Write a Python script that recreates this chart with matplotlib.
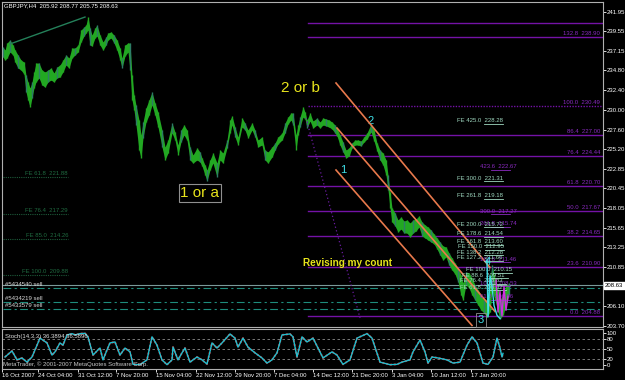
import matplotlib
matplotlib.use("Agg")
import matplotlib.pyplot as plt

plt.rcParams['font.family'] = ['Liberation Sans Narrow', 'Liberation Sans', 'DejaVu Sans']

# ---- price data (H4 bars, sampled along the chart) ----
bar_pos = [3, 5, 7, 10, 13, 15, 18, 21, 24, 26, 28, 30, 32, 34, 36, 39, 42, 45, 48, 51,
           54, 57, 60, 63, 66, 69, 72, 75, 78, 81, 84, 86, 88, 90, 92, 95, 97, 100, 103, 106,
           108, 111, 114, 117, 120, 122, 125, 128, 130, 132, 134, 136, 139, 141, 143, 146, 149, 152, 155, 158,
           162, 165, 168, 172, 175, 178, 181, 184, 187, 190, 193, 197, 200, 202, 205, 207, 210, 213, 217, 220,
           223, 227, 230, 232, 235, 238, 242, 245, 248, 252, 255, 258, 262, 265, 268, 272, 275, 278, 282, 285,
           288, 291, 293, 296, 298, 300, 303, 305, 307, 310, 313, 317, 320, 323, 326, 329, 332, 335, 337, 340,
           343, 346, 349, 352, 355, 358, 361, 364, 367, 371, 374, 377, 380, 383, 386, 388, 390, 392, 395, 398,
           401, 404, 407, 410, 413, 416, 419, 422, 425, 428, 431, 434, 437, 440, 443, 446, 449, 452, 455, 458,
           461, 463, 466, 469, 472, 475, 478, 481, 484, 487, 490, 492, 495, 498, 500, 503, 506, 509]
highs = [237.65, 237.28, 238.14, 238.50, 237.89, 237.28, 236.68, 236.07, 235.82, 234.24,
         233.39, 232.66, 233.39, 234.61, 235.70, 235.70, 234.85, 234.61, 234.85, 235.09,
         234.49, 235.22, 235.46, 236.07, 236.68, 236.31, 237.53, 237.53, 237.89, 239.72,
         240.08, 240.33, 241.30, 239.96, 239.11, 239.96, 240.33, 239.11, 238.26, 238.87,
         239.35, 239.48, 239.11, 238.50, 237.53, 236.31, 237.89, 238.14, 238.14, 234.24,
         231.81, 230.59, 228.77, 226.94, 228.52, 230.23, 231.20, 232.17, 230.83, 229.74,
         227.55, 225.48, 226.33, 228.40, 227.31, 225.72, 227.55, 228.16, 227.55, 225.48,
         224.51, 225.36, 224.87, 224.14, 223.29, 222.68, 223.90, 224.75, 223.53, 225.11,
         224.75, 226.33, 228.77, 229.25, 227.91, 226.70, 229.01, 228.40, 227.55, 228.40,
         227.55, 226.33, 226.70, 225.11, 224.87, 225.48, 225.97, 226.70, 227.18, 228.40,
         229.13, 229.62, 229.62, 226.94, 228.16, 229.13, 230.35, 229.74, 228.77, 229.62,
         228.64, 229.01, 228.52, 229.01, 228.89, 228.77, 228.52, 228.16, 227.79, 226.94,
         226.09, 225.11, 225.36, 225.97, 226.33, 226.33, 226.21, 226.70, 227.18, 228.28,
         227.55, 225.97, 225.11, 224.75, 223.90, 222.07, 220.00, 218.06, 217.45, 216.60,
         216.96, 216.47, 216.60, 216.23, 216.60, 216.72, 217.08, 216.35, 215.99, 215.74,
         215.38, 214.89, 214.41, 213.92, 213.43, 213.31, 212.58, 211.97, 211.36, 210.75,
         209.90, 208.93, 210.27, 210.15, 209.54, 208.69, 208.08, 207.47, 206.86, 206.86,
         209.29, 211.12, 209.54, 208.08, 206.86, 207.47, 208.56, 208.93]
lows = [236.43, 236.07, 236.31, 237.04, 236.68, 235.82, 235.09, 234.85, 234.36, 232.17,
        231.20, 230.35, 231.44, 232.66, 233.39, 233.88, 233.03, 232.78, 233.39, 233.63,
        233.39, 233.88, 234.00, 234.61, 235.46, 235.09, 236.31, 236.68, 237.04, 238.26,
        238.99, 239.35, 239.72, 237.89, 237.77, 238.75, 238.99, 237.89, 237.28, 237.89,
        238.50, 238.75, 238.14, 237.28, 236.07, 235.09, 236.55, 237.04, 234.85, 231.20,
        229.98, 228.16, 225.11, 224.14, 226.58, 228.52, 229.37, 230.59, 229.37, 227.91,
        225.48, 223.90, 224.75, 227.18, 226.33, 224.51, 226.09, 226.94, 226.33, 223.90,
        223.53, 223.90, 223.65, 223.17, 222.07, 221.34, 222.68, 223.53, 221.83, 223.90,
        223.53, 225.36, 227.18, 228.16, 226.70, 225.72, 227.91, 227.55, 226.58, 227.55,
        226.70, 225.48, 225.72, 223.90, 223.53, 224.26, 225.11, 225.85, 226.33, 227.18,
        228.28, 228.77, 228.16, 225.11, 226.94, 227.91, 229.13, 228.89, 227.79, 228.64,
        227.79, 228.16, 227.79, 228.16, 228.04, 227.91, 227.67, 227.18, 226.82, 225.72,
        224.87, 224.14, 224.38, 225.36, 225.72, 225.72, 225.60, 226.09, 226.45, 227.31,
        226.21, 224.99, 223.90, 223.29, 222.07, 220.25, 218.06, 216.35, 215.87, 215.14,
        215.50, 215.01, 215.01, 214.53, 215.01, 215.26, 215.74, 214.65, 214.41, 214.16,
        213.92, 213.68, 213.07, 212.34, 211.73, 212.09, 211.12, 210.51, 210.02, 209.05,
        207.47, 206.86, 208.69, 208.32, 207.47, 206.86, 206.25, 205.64, 205.28, 204.79,
        205.40, 208.08, 206.86, 205.40, 204.55, 205.03, 206.25, 207.47]
last_price = 208.63

# ---- stochastic (14,3,3) main line ----
stoch_pos = [5, 12, 17, 22, 27, 32, 40, 47, 52, 55, 60, 63, 67, 72, 75, 80, 85, 88, 93, 98,
             100, 103, 107, 110, 115, 120, 125, 130, 133, 140, 147, 152, 157, 162, 167, 172, 173, 178, 182, 185,
             190, 197, 202, 207, 212, 217, 222, 230, 235, 238, 243, 248, 255, 262, 267, 272, 277, 282, 290, 293,
             297, 302, 307, 313, 318, 323, 332, 337, 343, 350, 357, 367, 372, 380, 390, 397, 402, 410, 413, 420,
             425, 428, 432, 438, 447, 453, 460, 467, 472, 477, 483, 488, 493, 497, 500, 502, 503]
stoch_main = [25, 44, 16, 22, 9, 25, 84, 69, 31, 41, 69, 62, 94, 98, 94, 98, 99, 88, 31, 47,
              53, 16, 47, 69, 72, 31, 53, 41, 2, 1, 16, 88, 62, 16, 1, 16, 56, 16, 38, 53,
              9, 25, 16, 3, 69, 53, 69, 97, 84, 56, 84, 56, 38, 22, 6, 16, 38, 94, 97, 88,
              25, 88, 72, 84, 53, 22, 41, 31, 2, 16, 84, 98, 84, 9, 1, 2, 9, 16, 41, 78,
              41, 6, 25, 22, 16, 6, 9, 62, 88, 69, 6, 2, 25, 84, 53, 25, 36.39]
stoch_levels = [80, 50, 20]

# ---- axis labels ----
price_ticks = [241.95, 239.55, 237.15, 234.80, 232.40, 230.00, 227.60, 225.20, 222.85,
               220.45, 218.05, 215.65, 213.25, 210.85, 206.10, 203.70]
stoch_ticks = [100, 80, 50, 20, 0]
date_pos = [2, 38, 78, 116, 156, 196, 235, 274, 313, 352, 392, 431, 471]
date_labels = ['16 Oct 2007', '24 Oct 04:00', '31 Oct 12:00', '7 Nov 20:00', '15 Nov 04:00',
               '22 Nov 12:00', '29 Nov 20:00', '7 Dec 04:00', '14 Dec 12:00', '21 Dec 20:00',
               '3 Jan 04:00', '10 Jan 12:00', '17 Jan 20:00']

# ---- fibonacci retracement (purple) ----
fib_pct = ['', '132.8', '100.0', '86.4', '76.4', '61.8', '50.0', '38.2', '23.6', '0.0']
fib_price = [240.55, 238.90, 230.49, 227.00, 224.44, 220.70, 217.67, 214.65, 210.90, 204.88]

# ---- fibonacci expansion labels (teal) ----
fe_pct = ['425.0', '300.0', '261.8', '200.0', '178.6', '161.8', '150.0', '138.2', '127.2',
          '100.0', '88.6', '76.4', '61.8']
fe_price = [228.28, 221.31, 219.18, 215.72, 214.54, 213.60, 212.95, 212.28, 211.66,
            210.15, 209.51, 208.83, 208.02]
fe_x = [457, 457, 457, 457, 457, 457, 458, 457, 457, 466, 462, 460, 460]

# second expansion (purple, middle)
fe2_pct = ['423.6', '300.0', '261.8', '161.8', '100.0', '61.8']
fe2_price = [222.67, 217.27, 215.74, 211.46, 208.53, 206.86]

# old expansion on the left (dark green)
fe_left_pct = ['61.8', '76.4', '85.0', '100.0']
fe_left_price = [221.88, 217.29, 214.26, 209.88]

# open orders
order_names = ['#5434540 sell', '#5434219 sell', '#5433579 sell']
order_price = [208.31, 206.62, 205.77]

# channel lines and other drawn objects (x, price)
channel_x = [[336, 490], [337, 495], [336, 472]]
channel_p = [[233.27, 210.82], [227.79, 205.46], [222.68, 203.76]]
trend_x = [10, 85]
trend_p = [238.02, 241.30]
dotted_x = [306, 360]
dotted_p = [229.01, 204.67]
wave_cyan_x = [487, 488, 490, 492, 494, 497, 500]
wave_cyan_p = [211.7, 204.8, 209.8, 208.5, 206.2, 205.0, 204.6]
wave_mag_x = [496, 498, 500, 502, 504, 506, 508]
wave_mag_p = [209.3, 205.4, 207.9, 204.9, 208.5, 205.6, 207.3]

BG = 'black'
GREEN = '#22a822'
DKGREEN = '#2d7d66'
PURPLE = '#7412a6'
FETEAL = '#9fd8c0'
ORANGE = '#e8794c'
CYAN = '#3fe0e8'
YELLOW = '#e8e41c'
AXC = '#b0b0b0'
SMALL = 4.3

fig = plt.figure(figsize=(6.25, 3.8), dpi=100, facecolor=BG)
ax = fig.add_axes([2 / 625, 1 - 327 / 380, 601 / 625, 325 / 380], facecolor=BG)
ax2 = fig.add_axes([2 / 625, 1 - 369 / 380, 601 / 625, 40 / 380], facecolor=BG, sharex=ax)
ax.set_xlim(2, 603)
ax.set_ylim(203.57, 243.13)
ax2.set_ylim(-12.5, 112.5)

for a in (ax, ax2):
    for s in a.spines.values():
        s.set_color(AXC)
        s.set_linewidth(0.8)
    a.yaxis.tick_right()
    a.tick_params(axis='y', colors='white', labelsize=SMALL, length=2, width=0.6, pad=0.8)

ax.set_yticks(price_ticks)
ax.set_yticklabels(['%.2f' % v for v in price_ticks])
ax2.set_yticks(stoch_ticks)
ax2.set_yticklabels([str(v) for v in stoch_ticks])
ax.tick_params(axis='x', bottom=False, labelbottom=False)
ax2.set_xticks(date_pos)
ax2.set_xticklabels(date_labels, ha='left')
ax2.tick_params(axis='x', colors='white', labelsize=SMALL, length=2, width=0.6, pad=1)

# fib retracement lines
for pct, p in zip(fib_pct, fib_price):
    ls = (0, (1, 1)) if pct == '100.0' else '-'
    ax.plot([308, 603], [p, p], color=PURPLE, lw=1.0, ls=ls, zorder=1)
    if pct:
        ax.text(600, p + 0.12, '%s  %.2f' % (pct, p), color='#8a2ac0', fontsize=SMALL,
                ha='right', va='bottom', zorder=5)

# old FE on the left
for pct, p in zip(fe_left_pct, fe_left_price):
    ax.plot([3, 68], [p, p], color='#1d5a3a', lw=0.8, ls=(0, (1, 1)))
    ax.text(68, p + 0.12, 'FE %s  %.2f' % (pct, p), color='#1f6a40', fontsize=SMALL,
            ha='right', va='bottom')

# order lines and current price line
ax.axhline(last_price, color='#7a9a9a', lw=0.8, zorder=1)
for name, p in zip(order_names, order_price):
    ax.plot([3, 603], [p, p], color='#1e8c7c', lw=0.8, ls=(0, (7, 3, 2, 3)), zorder=1)
    ax.text(5, p + 0.1, name, color='#d8d8d8', fontsize=SMALL, ha='left', va='bottom')

# price bars
ax.fill_between(bar_pos, lows, highs, color=GREEN, lw=0, zorder=2)
bar_cols = [GREEN if i % 3 else DKGREEN for i in range(len(bar_pos))]
ax.vlines(bar_pos, lows, highs, colors=bar_cols, lw=1.0, zorder=3)

# trend line, channel, dotted line
ax.plot(trend_x, trend_p, color='#24805a', lw=1.0, zorder=4)
for cx, cp in zip(channel_x, channel_p):
    ax.plot(cx, cp, color=ORANGE, lw=1.2, zorder=4)
ax.plot(dotted_x, dotted_p, color='#6a1ca0', lw=0.9, ls=(0, (1, 2)), zorder=4)

# fibonacci expansion labels
for pct, p, x in zip(fe_pct, fe_price, fe_x):
    ax.text(x, p + 0.08, 'FE %s  %.2f' % (pct, p), color=FETEAL, fontsize=SMALL,
            ha='left', va='bottom', zorder=6)
    ax.plot([x + 27, x + 46], [p, p], color=FETEAL, lw=0.6, zorder=6)
for pct, p in zip(fe2_pct, fe2_price):
    ax.text(480, p + 0.08, '%s  %.2f' % (pct, p), color='#8a2ac0', fontsize=SMALL,
            ha='left', va='bottom', zorder=5)
    ax.plot([491, 510], [p, p], color='#8a2ac0', lw=0.6, zorder=5)

# wave lines at the end
ax.plot(wave_cyan_x, wave_cyan_p, color=CYAN, lw=1.0, zorder=7)
ax.plot(wave_mag_x, wave_mag_p, color='#d030e0', lw=1.0, zorder=7)

# wave labels
ax.text(300, 232.66, '2 or b', color=YELLOW, fontsize=11, ha='center', va='center',
        family=['Liberation Sans', 'DejaVu Sans'])
ax.text(200, 219.88, '1 or a', color=YELLOW, fontsize=11, ha='center', va='center',
        family=['Liberation Sans', 'DejaVu Sans'],
        bbox=dict(boxstyle='square,pad=0.12', fc='none', ec='#909090', lw=0.8))
ax.text(303, 211.36, 'Revising my count', color=YELLOW, fontsize=7.2, fontweight='bold',
        ha='left', va='center', family=['Liberation Sans', 'DejaVu Sans'])
ax.text(343, 222.68, '1', color=CYAN, fontsize=8, ha='center', va='center',
        family=['Liberation Sans', 'DejaVu Sans'])
ax.text(371, 228.64, '2', color=CYAN, fontsize=8, ha='center', va='center',
        family=['Liberation Sans', 'DejaVu Sans'])
ax.text(488, 211.49, '4', color=CYAN, fontsize=8, ha='center', va='center',
        family=['Liberation Sans', 'DejaVu Sans'], zorder=8)
ax.text(481, 204.43, '3', color=CYAN, fontsize=8, ha='center', va='center',
        family=['Liberation Sans', 'DejaVu Sans'], zorder=8,
        bbox=dict(boxstyle='square,pad=0.15', fc='none', ec='#909090', lw=0.6))

# header and current price box
ax.text(2 / 601, 1 - 4 / 325, 'GBPJPY,H4  205.92 208.77 205.75 208.63', transform=ax.transAxes,
        color='white', fontsize=SMALL, ha='left', va='center')
ax.text(605, last_price, '%.2f' % last_price, color='black', fontsize=SMALL, ha='left',
        va='center', clip_on=False, zorder=10,
        bbox=dict(boxstyle='square,pad=0.2', fc='white', ec='white'))

# stochastic panel
for lv in stoch_levels:
    ax2.axhline(lv, color='#8a8a8a', lw=0.6, ls=(0, (3, 3)))
ax2.plot(stoch_pos, stoch_main, color='#e02020', lw=1.4, ls=(0, (1, 1)))
ax2.plot(stoch_pos, stoch_main, color='#20c0d0', lw=1.0)
ax2.text(5, 90.6, 'Stoch(14,3,3) 36.3894 36.5896', color='#e0e0e0', fontsize=SMALL,
         ha='left', va='center')
ax2.text(3, 3, 'MetaTrader, \u00a9 2001-2007 MetaQuotes Software Corp.', color='#c8c8c8',
         fontsize=SMALL, ha='left', va='center')

fig.savefig('out.png', dpi=100, facecolor=BG)
